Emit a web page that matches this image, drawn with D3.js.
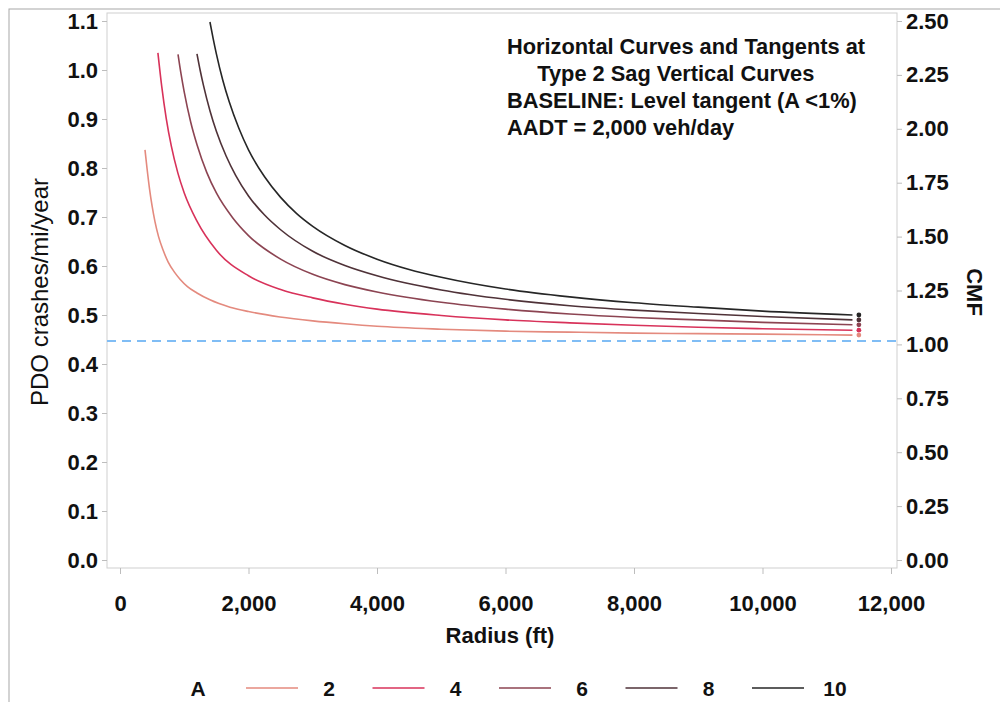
<!DOCTYPE html>
<html>
<head>
<meta charset="utf-8">
<script src="https://cdn.jsdelivr.net/npm/d3@7"></script>
<style>
  body { margin: 0; background: #fff; }
  text { font-family: "Liberation Sans", Arial, sans-serif; }
</style>
</head>
<body>
<div id="chart"></div>
<script>
// grade values (A, %) and their colours
const grades = [2, 4, 6, 8, 10];
const gradeColors = ["#e48a7e", "#d8325a", "#8c4452", "#4f3238", "#262626"];

// radius (ft) / PDO crashes per mile per year
const curveA2 = [[389,0.837],[420,0.800],[460,0.757],[500,0.722],[545,0.690],[600,0.660],[669,0.633],[750,0.608],[850,0.587],[934,0.573],[1050,0.558],[1198,0.545],[1400,0.531],[1712,0.516],[2000,0.507],[2490,0.496],[3000,0.488],[3500,0.482],[4000,0.477],[5000,0.471],[6000,0.467],[7000,0.465],[8000,0.463],[9000,0.462],[10000,0.461],[11400,0.459]];
const curveA4 = [[590,1.035],[650,0.966],[720,0.901],[800,0.844],[900,0.790],[1000,0.749],[1200,0.691],[1500,0.632],[2000,0.580],[2500,0.552],[3000,0.535],[3500,0.522],[4000,0.512],[5000,0.499],[6000,0.490],[7000,0.484],[8000,0.479],[9000,0.475],[10000,0.472],[11400,0.469]];
const curveA6 = [[903,1.032],[950,0.992],[1000,0.955],[1100,0.894],[1200,0.847],[1350,0.791],[1500,0.749],[1750,0.699],[2000,0.662],[2500,0.614],[3000,0.583],[3500,0.562],[4000,0.547],[5000,0.526],[6000,0.512],[7000,0.502],[8000,0.495],[9000,0.490],[10000,0.485],[11400,0.480]];
const curveA8 = [[1198,1.033],[1250,0.998],[1300,0.968],[1400,0.917],[1500,0.875],[1650,0.825],[1800,0.785],[2000,0.743],[2250,0.704],[2500,0.674],[3000,0.630],[3500,0.601],[4000,0.580],[5000,0.551],[6000,0.532],[7000,0.519],[8000,0.510],[9000,0.503],[10000,0.497],[11400,0.490]];
const curveA10 = [[1400,1.098],[1450,1.064],[1500,1.033],[1600,0.979],[1700,0.935],[1850,0.881],[2000,0.837],[2250,0.782],[2500,0.740],[2750,0.707],[3000,0.681],[3500,0.642],[4000,0.614],[4500,0.593],[5000,0.577],[6000,0.553],[7000,0.537],[8000,0.525],[9000,0.516],[10000,0.508],[11400,0.500]];
const curves = [curveA2, curveA4, curveA6, curveA8, curveA10];

// end markers at R = 11,500 ft
const endRadius = 11500;
const endValues = [0.459, 0.469, 0.480, 0.490, 0.500];

// baseline (level tangent, CMF = 1)
const baseline = 0.447;

const xTicks = [0, 2000, 4000, 6000, 8000, 10000, 12000];
const yTicks = [0, 0.1, 0.2, 0.3, 0.4, 0.5, 0.6, 0.7, 0.8, 0.9, 1.0, 1.1];
const cmfTicks = [0, 0.25, 0.5, 0.75, 1.0, 1.25, 1.5, 1.75, 2.0, 2.25, 2.5];

const noteLines = [
  "Horizontal Curves and Tangents at",
  "     Type 2 Sag Vertical Curves",
  "BASELINE: Level tangent (A <1%)",
  "AADT = 2,000 veh/day"
];

const width = 1000;
const height = 702;
const box = { left: 107, right: 897, top: 13, bottom: 568 };

const svg = d3.select("#chart").append("svg")
  .attr("width", width)
  .attr("height", height);

// marco exterior
svg.append("rect")
  .attr("x", 9).attr("y", 9)
  .attr("width", width).attr("height", height)
  .attr("fill", "none")
  .attr("stroke", "#a8a8a8");

const x = d3.scaleLinear().domain([0, 12000]).range([120, 891]);
const y = d3.scaleLinear().domain([0, 1.1]).range([560, 21]);
const yCmf = d3.scaleLinear().domain([0, 2.5]).range([560, 21]);

// caja del grafico
svg.append("rect")
  .attr("x", box.left).attr("y", box.top)
  .attr("width", box.right - box.left)
  .attr("height", box.bottom - box.top)
  .attr("fill", "none")
  .attr("stroke", "#cfcfcf");

const styleAxis = (g) => {
  g.select(".domain").remove();
  g.selectAll(".tick line").attr("stroke", "#bdbdbd");
  g.selectAll(".tick text")
    .attr("fill", "#111")
    .style("font-size", "22px")
    .style("font-weight", "bold")
    .style("font-family", "'Liberation Sans', Arial, sans-serif");
};

svg.append("g")
  .attr("transform", `translate(0,${box.bottom})`)
  .call(d3.axisBottom(x).tickValues(xTicks).tickFormat(d3.format(",")).tickSize(6).tickPadding(21))
  .call(styleAxis);

svg.append("g")
  .attr("transform", `translate(${box.left},0)`)
  .call(d3.axisLeft(y).tickValues(yTicks).tickFormat(d3.format(".1f")).tickSize(5).tickPadding(4))
  .call(styleAxis);

svg.append("g")
  .attr("transform", `translate(${box.right},0)`)
  .call(d3.axisRight(yCmf).tickValues(cmfTicks).tickFormat(d3.format(".2f")).tickSize(5).tickPadding(4))
  .call(styleAxis);

// linea base punteada
svg.append("line")
  .attr("x1", box.left).attr("x2", box.right)
  .attr("y1", y(baseline)).attr("y2", y(baseline))
  .attr("stroke", "#80bdf5")
  .attr("stroke-width", 2)
  .attr("stroke-dasharray", "9,6");

const line = d3.line()
  .x((d) => x(d[0]))
  .y((d) => y(d[1]))
  .curve(d3.curveMonotoneX);

svg.append("g")
  .selectAll("path")
  .data(curves)
  .join("path")
  .attr("d", line)
  .attr("fill", "none")
  .attr("stroke", (d, i) => gradeColors[i])
  .attr("stroke-width", 1.6);

svg.append("g")
  .selectAll("circle")
  .data(endValues)
  .join("circle")
  .attr("cx", x(endRadius))
  .attr("cy", (d) => y(d))
  .attr("r", 2.4)
  .attr("fill", (d, i) => gradeColors[i]);

// nota
svg.append("g")
  .selectAll("text")
  .data(noteLines)
  .join("text")
  .attr("x", 507)
  .attr("y", (d, i) => 54 + i * 27)
  .attr("xml:space", "preserve")
  .style("white-space", "pre")
  .style("font-size", "21.8px")
  .style("font-weight", "bold")
  .attr("fill", "#111")
  .text((d) => d);

// titulos de ejes
svg.append("text")
  .attr("x", 500).attr("y", 643)
  .attr("text-anchor", "middle")
  .style("font-size", "22px")
  .style("font-weight", "bold")
  .attr("fill", "#111")
  .text("Radius (ft)");

svg.append("text")
  .attr("transform", "translate(48,292) rotate(-90)")
  .attr("text-anchor", "middle")
  .style("font-size", "24px")
  .attr("fill", "#111")
  .text("PDO crashes/mi/year");

svg.append("text")
  .attr("transform", "translate(967,292) rotate(90)")
  .attr("text-anchor", "middle")
  .style("font-size", "22px")
  .style("font-weight", "bold")
  .attr("fill", "#111")
  .text("CMF");

// leyenda
const legend = svg.append("g").attr("transform", "translate(0,688)");

legend.append("text")
  .attr("x", 198).attr("y", 8)
  .attr("text-anchor", "middle")
  .style("font-size", "21px")
  .style("font-weight", "bold")
  .attr("fill", "#111")
  .text("A");

const item = legend.selectAll("g.item")
  .data(grades)
  .join("g")
  .attr("class", "item")
  .attr("transform", (d, i) => `translate(${246 + i * 126.5},0)`);

item.append("line")
  .attr("x1", 0).attr("x2", 52)
  .attr("y1", 0).attr("y2", 0)
  .attr("stroke", (d, i) => gradeColors[i])
  .attr("stroke-width", 1.6);

item.append("text")
  .attr("x", 83).attr("y", 8)
  .attr("text-anchor", "middle")
  .style("font-size", "21px")
  .style("font-weight", "bold")
  .attr("fill", "#111")
  .text((d) => d);
</script>
</body>
</html>
